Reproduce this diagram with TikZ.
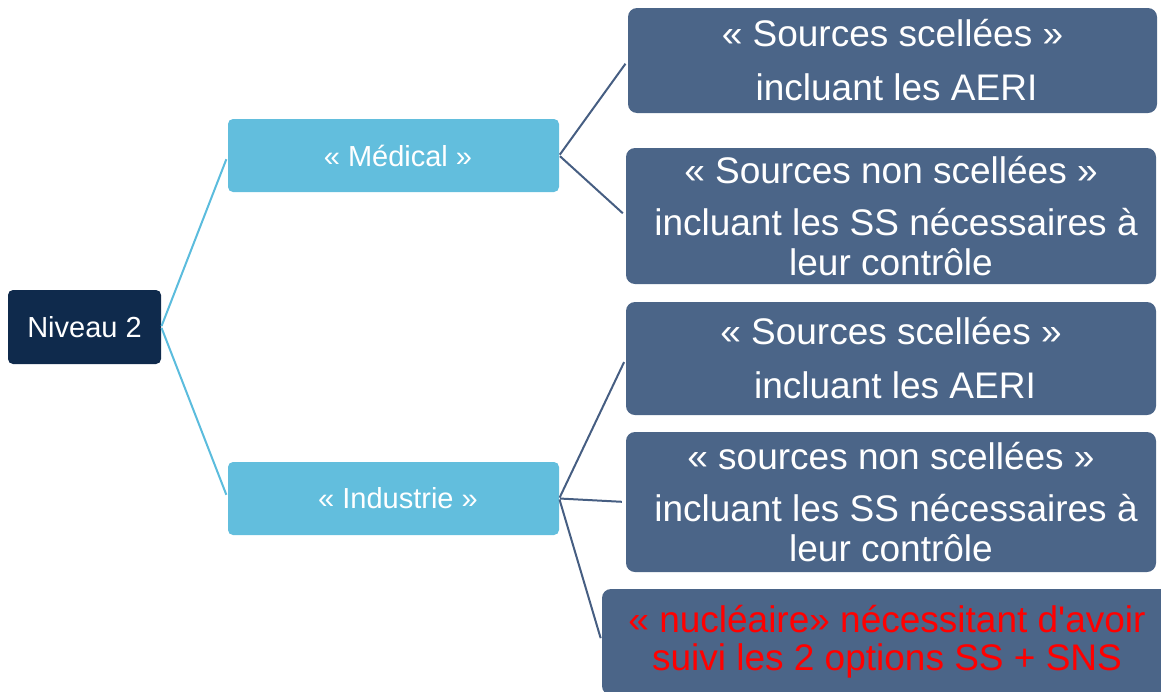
\documentclass[tikz,border=0pt]{standalone}
\usepackage{fontspec}
\setmainfont{Liberation Sans}[Ligatures=TeXOff]
\definecolor{navyc}{HTML}{0F2A4C}
\definecolor{lightc}{HTML}{62BEDD}
\definecolor{slatec}{HTML}{4B6588}
\definecolor{lline}{HTML}{5BBCDD}
\definecolor{sline}{HTML}{465E82}
\begin{document}
\begin{tikzpicture}[x=1pt,y=-1pt,
  box/.style={inner sep=0pt, align=center, text=white},
  navybox/.style={box, rounded corners=5pt, fill=navyc, font=\fontsize{29}{33}\selectfont},
  lightbox/.style={box, rounded corners=5pt, fill=lightc, font=\fontsize{29}{33}\selectfont},
  slatebox/.style={box, rounded corners=9pt, fill=slatec, font=\fontsize{37}{40}\selectfont},
  lconn/.style={draw=lline, line width=2pt, shorten <=1pt, shorten >=4pt},
  sconn/.style={draw=sline, line width=2pt, shorten <=1pt, shorten >=4pt}]
\useasboundingbox (0,0) rectangle (1161,691);
\clip (0,0) rectangle (1161,691);
\node[navybox, minimum width=153pt, minimum height=74pt] (niv) at (84.5,327) {Niveau 2};
\node[lightbox, minimum width=331pt, minimum height=73pt] (med) at (393.5,155.5) {\hspace*{9pt}« Médical »};
\node[lightbox, minimum width=331pt, minimum height=73pt] (ind) at (393.5,498.5) {\hspace*{9pt}« Industrie »};
\node[slatebox, minimum width=529pt, minimum height=105pt] (s1) at (892.5,60.5) {« Sources scellées »\\[14pt]\hspace*{8pt}incluant les AERI};
\node[slatebox, minimum width=530pt, minimum height=136pt] (s2) at (891,216) {« Sources non scellées »\\[12pt]\hspace*{10pt}incluant les SS nécessaires à\\leur contrôle};
\node[slatebox, minimum width=530pt, minimum height=113pt] (s3) at (891,358.5) {« Sources scellées »\\[14pt]\hspace*{8pt}incluant les AERI};
\node[slatebox, minimum width=530pt, minimum height=140pt] (s4) at (891,502) {« sources non scellées »\\[12pt]\hspace*{10pt}incluant les SS nécessaires à\\leur contrôle};
\node[slatebox, text=red, minimum width=570pt, minimum height=106pt] (s5) at (887,642) {« nucléaire» nécessitant d'avoir\\[-2pt]suivi les 2 options SS + SNS};
\draw[lconn] (niv.east) -- (med.west);
\draw[lconn] (niv.east) -- (ind.west);
\draw[sconn] (med.east) -- (s1.west);
\draw[sconn] (med.east) -- (s2.west);
\draw[sconn] (ind.east) -- (s3.west);
\draw[sconn] (ind.east) -- (s4.west);
\draw[sconn] (ind.east) -- (s5.west);
\end{tikzpicture}
\end{document}
